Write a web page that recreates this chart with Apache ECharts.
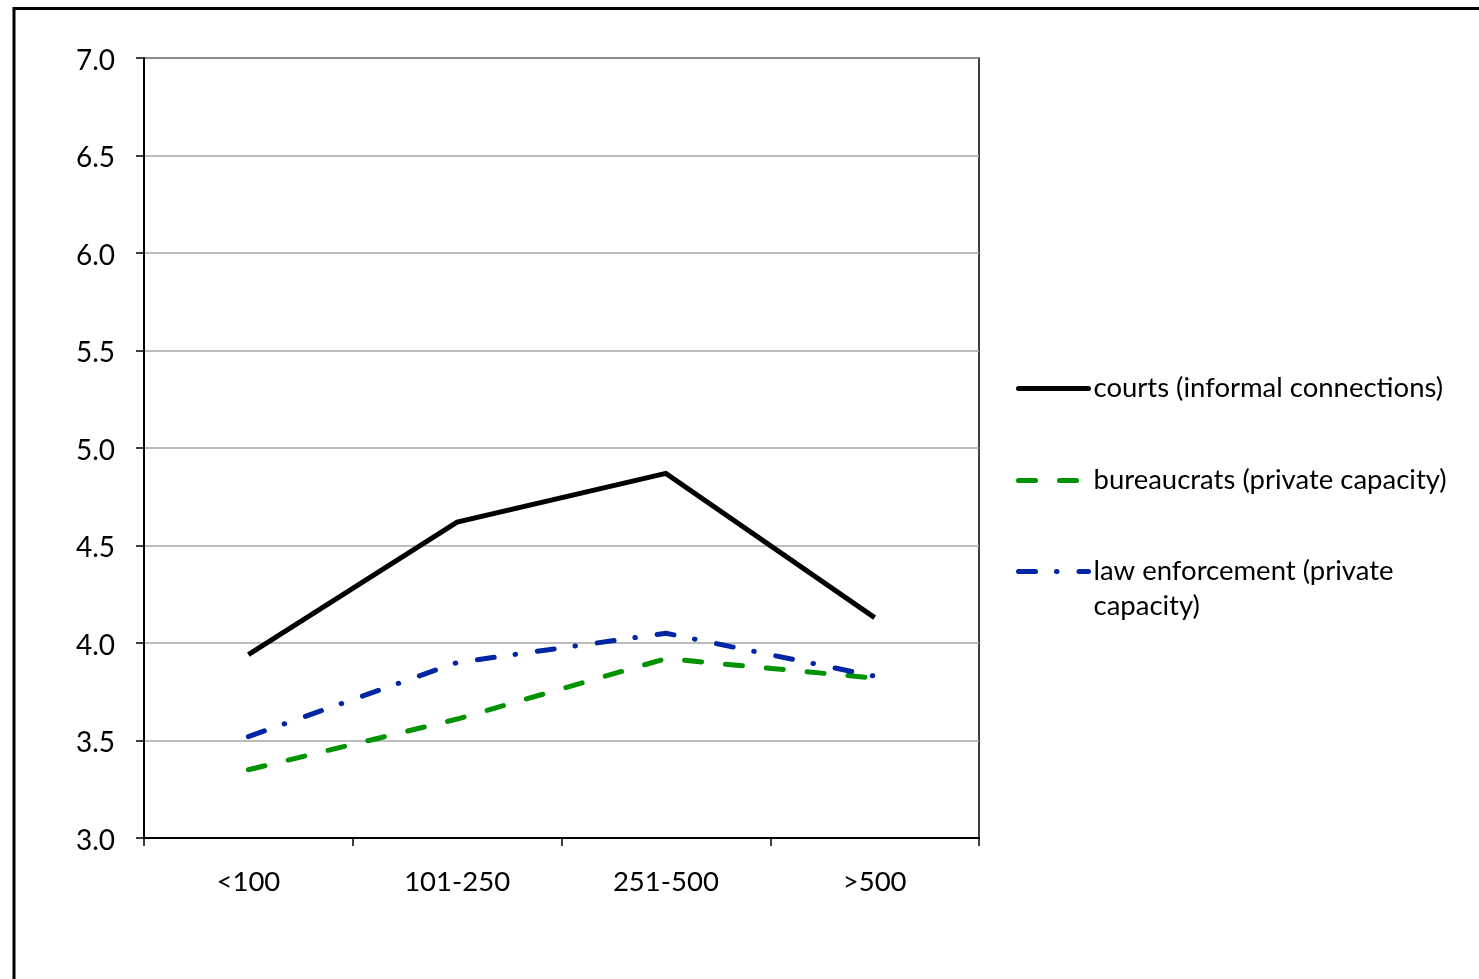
<!DOCTYPE html>
<html>
<head>
<meta charset="utf-8">
<script src="https://cdn.jsdelivr.net/npm/echarts@6/dist/echarts.min.js"></script>
<style>
  html, body { margin: 0; padding: 0; background: #fff; }
  #chart { width: 1479px; height: 979px; }
</style>
</head>
<body>
<div id="chart"></div>
<script>
// Firm size groups (number of employees)
const categories = ['<100', '101-250', '251-500', '>500'];

// Mean scores per group
const courtsValues = [3.94, 4.62, 4.87, 4.13];
const bureaucratsValues = [3.35, 3.61, 3.92, 3.82];
const lawEnforcementValues = [3.52, 3.90, 4.05, 3.83];

const seriesNames = [
  'courts (informal connections)',
  'bureaucrats (private capacity)',
  'law enforcement (private capacity)'
];

// Y axis range
const yMin = 3.0;
const yMax = 7.0;
const yStep = 0.5;

const FONT = 'Lato';
const FONT_SIZE = 27.5;
const GREEN = '#009200';
const BLUE = '#0026a3';

const chart = echarts.init(document.getElementById('chart'), null, { renderer: 'canvas' });

// One legend block per series so each can be placed on its own row
function legendFor(name, top) {
  return {
    data: [name],
    orient: 'vertical',
    left: 1016,
    top: top,
    itemWidth: 70,
    itemHeight: 14,
    itemGap: 0,
    padding: 0,
    selectedMode: false,
    itemStyle: { color: 'transparent', borderWidth: 0, opacity: 0 },
    lineStyle: { width: 5, cap: 'round', opacity: 1 },
    textStyle: {
      fontFamily: FONT,
      fontSize: FONT_SIZE,
      color: '#000',
      lineHeight: 35
    },
    formatter: function (n) {
      // long label wraps; the leading blank line keeps the first line level with the icon
      return n === seriesNames[2] ? '\nlaw enforcement (private\ncapacity)' : n;
    }
  };
}

const option = {
  backgroundColor: '#fff',
  animation: false,
  grid: {
    left: 144,
    top: 58,
    right: 500,
    bottom: 141,
    show: true,
    borderColor: '#000',
    borderWidth: 1.5,
    backgroundColor: 'transparent'
  },
  legend: [
    legendFor(seriesNames[0], 371),
    legendFor(seriesNames[1], 463),
    legendFor(seriesNames[2], 519)
  ],
  xAxis: {
    type: 'category',
    data: categories,
    boundaryGap: true,
    axisLine: { show: true, lineStyle: { color: '#000', width: 2 } },
    axisTick: { show: true, length: 8, inside: false, alignWithLabel: false, lineStyle: { color: '#000', width: 1.5 } },
    axisLabel: { margin: 30, fontFamily: FONT, fontSize: FONT_SIZE, color: '#000' },
    splitLine: { show: false }
  },
  yAxis: {
    type: 'value',
    min: yMin,
    max: yMax,
    interval: yStep,
    axisLine: { show: true, lineStyle: { color: '#000', width: 2 } },
    axisTick: { show: true, length: 8, inside: false, lineStyle: { color: '#000', width: 1.5 } },
    axisLabel: {
      margin: 29,
      color: '#000',
      formatter: function (v) { return '{v|' + v.toFixed(1) + '}'; },
      rich: {
        v: { fontFamily: FONT, fontSize: 28, color: '#000', padding: [5, 0, 0, 0] }
      }
    },
    splitLine: { show: true, lineStyle: { color: '#a6a6a6', width: 1.5 } }
  },
  series: [
    {
      name: seriesNames[0],
      type: 'line',
      data: courtsValues,
      symbol: 'none',
      lineStyle: { color: '#000', width: 5, cap: 'butt', join: 'miter' },
      itemStyle: { color: '#000' }
    },
    {
      name: seriesNames[1],
      type: 'line',
      data: bureaucratsValues,
      symbol: 'none',
      lineStyle: { color: GREEN, width: 5, type: [17, 24], cap: 'round', join: 'round' },
      itemStyle: { color: GREEN }
    },
    {
      name: seriesNames[2],
      type: 'line',
      data: lawEnforcementValues,
      symbol: 'none',
      lineStyle: { color: BLUE, width: 5, type: [17, 21, 0.5, 22], cap: 'round', join: 'round' },
      itemStyle: { color: BLUE }
    }
  ],
  graphic: [
    {
      type: 'rect',
      z: 100,
      silent: true,
      shape: { x: 14, y: 8.5, width: 1600, height: 1100 },
      style: { fill: 'none', stroke: '#000', lineWidth: 3 }
    }
  ]
};

chart.setOption(option);
</script>
</body>
</html>
